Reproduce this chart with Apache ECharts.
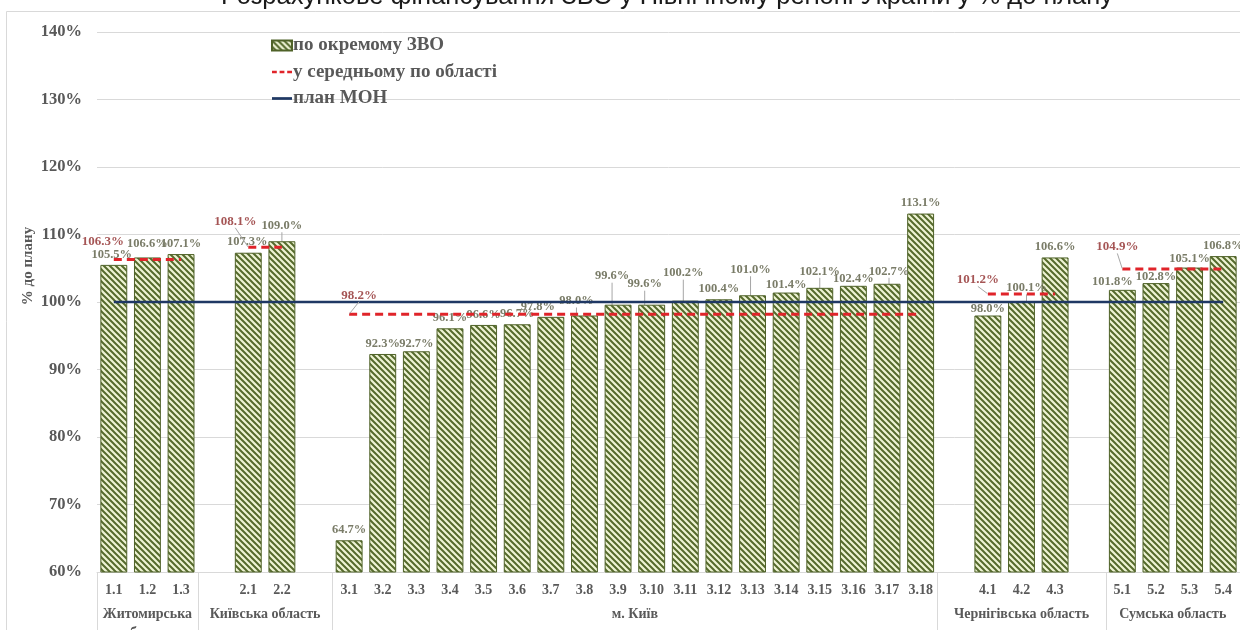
<!DOCTYPE html>
<html>
<head>
<meta charset="utf-8">
<script src="https://cdn.jsdelivr.net/npm/echarts@6/dist/echarts.min.js"></script>
<style>
  html, body { margin: 0; padding: 0; background: #ffffff; }
  #chart { width: 1240px; height: 630px; }
</style>
</head>
<body>
<div id="chart"></div>
<script>
// ---- data ----
const titleText = 'Розрахункове фінансування ЗВО у Північному регіоні України у % до плану';
const seriesNames = ['по окремому ЗВО', 'у середньому по області', 'план МОН'];

// category slots along the x axis ('' = spacer slot between regions)
const categoryCodes = [
  '1.1', '1.2', '1.3', '',
  '2.1', '2.2', '',
  '3.1', '3.2', '3.3', '3.4', '3.5', '3.6', '3.7', '3.8', '3.9',
  '3.10', '3.11', '3.12', '3.13', '3.14', '3.15', '3.16', '3.17', '3.18', '',
  '4.1', '4.2', '4.3', '',
  '5.1', '5.2', '5.3', '5.4'
];
const barValues = [
  105.5, 106.6, 107.1, null,
  107.3, 109.0, null,
  64.7, 92.3, 92.7, 96.1, 96.6, 96.7, 97.8, 98.0, 99.6,
  99.6, 100.2, 100.4, 101.0, 101.4, 102.1, 102.4, 102.7, 113.1, null,
  98.0, 100.1, 106.6, null,
  101.8, 102.8, 105.1, 106.8
];
const groupNames = ['Житомирська\nобласть', 'Київська область', 'м. Київ', 'Чернігівська область', 'Сумська область'];
const groupSizes = [3, 4, 18, 5, 4];
const groupAverages = [106.3, 108.1, 98.2, 101.2, 104.9];
const planLevel = 100;
const yMin = 60, yMax = 140, yStep = 10;

// ---- label placement tweaks: [dx, dy, leader line] ----
const barLabelNudge = {
  '1.1': [-2, 0, 0], '1.2': [0, -3, 0], '2.1': [-1, 0, 0], '2.2': [0, -5, 1],
  '3.3': [0, 3, 0], '3.7': [-13, 0, 0], '3.8': [-8, -4, 1], '3.9': [-6, -18, 1],
  '3.10': [-7, -10, 1], '3.11': [-2, -17, 1], '3.13': [-2, -15, 1], '3.14': [0, 3, 0],
  '3.15': [0, -6, 1], '3.16': [0, 3, 0], '3.17': [2, -2, 1], '4.1': [0, 4, 0],
  '4.2': [5, -3, 1], '5.1': [-10, 2, 0], '5.2': [0, 4, 0], '5.3': [0, 2, 0]
};
const avgLabelNudge = [[-11, -18, 0], [-13, -26, 1], [10, -19, 1], [-10, -14, 1], [-5, -22, 1]];

// ---- derived series ----
const groupStarts = [];
groupSizes.reduce((s, n) => { groupStarts.push(s); return s + n; }, 0);

const avgLine = categoryCodes.map(() => null);
const avgPoints = [];
groupSizes.forEach((n, g) => {
  let first = -1;
  for (let i = groupStarts[g]; i < groupStarts[g] + n; i++) {
    if (barValues[i] != null) {
      avgLine[i] = groupAverages[g];
      if (first < 0) first = i;
    }
  }
  avgPoints.push({
    value: [first, groupAverages[g]],
    labelLine: { show: !!avgLabelNudge[g][2] }
  });
});
const planLine = categoryCodes.map(() => planLevel);

const barData = barValues.map((v, i) => {
  if (v == null) return null;
  const n = barLabelNudge[categoryCodes[i]];
  return { value: v, labelLine: { show: !!(n && n[2]) } };
});

// diagonal hatch fill for the bars
function hatchPattern() {
  const s = 6;
  const c = document.createElement('canvas');
  c.width = s; c.height = s;
  const g = c.getContext('2d');
  g.fillStyle = '#eef3d4';
  g.fillRect(0, 0, s, s);
  g.strokeStyle = '#556a2c';
  g.lineWidth = 2;
  g.beginPath();
  g.moveTo(-1, -1); g.lineTo(s + 1, s + 1);
  g.moveTo(-1, s - 1); g.lineTo(1, s + 1);
  g.moveTo(s - 1, -1); g.lineTo(s + 1, 1);
  g.stroke();
  return c;
}

const serif = '"Liberation Serif", "DejaVu Serif", serif';
const axisGrey = '#595959';
const avgRed = '#e0242a';
const planBlue = '#1f3864';

const chart = echarts.init(document.getElementById('chart'), null, { renderer: 'canvas' });

chart.setOption({
  animation: false,
  backgroundColor: '#ffffff',
  grid: { left: 97, right: -2, top: 32, bottom: 58, containLabel: false },
  legend: {
    data: [
      { name: seriesNames[0], icon: 'rect' },
      { name: seriesNames[1], icon: 'path://M0,0H6V3.4H0Z M9.5,0H15.5V3.4H9.5Z M19,0H25V3.4H19Z' },
      { name: seriesNames[2], icon: 'path://M0,0H25V3.4H0Z' }
    ],
    orient: 'vertical',
    left: 271,
    top: 36,
    padding: 0,
    itemWidth: 20,
    itemHeight: 10,
    itemGap: 7.5,
    selectedMode: false,
    textStyle: { fontFamily: serif, fontWeight: 'bold', fontSize: 19, color: axisGrey, padding: [0, 0, 0, -4] }
  },
  xAxis: {
    type: 'category',
    data: categoryCodes,
    axisLine: { show: true, lineStyle: { color: '#d9d9d9', width: 1 } },
    axisTick: { show: false },
    axisLabel: {
      interval: 0, margin: 11,
      fontFamily: serif, fontWeight: 'bold', fontSize: 14, color: axisGrey
    },
    splitLine: { show: false }
  },
  yAxis: {
    type: 'value',
    min: yMin, max: yMax, interval: yStep,
    axisLine: { show: false },
    axisTick: { show: false },
    axisLabel: {
      formatter: '{value}%', margin: 15,
      fontFamily: serif, fontWeight: 'bold', fontSize: 16.5, color: axisGrey
    },
    splitLine: { show: true, lineStyle: { color: '#d9d9d9', width: 1 } }
  },
  series: [
    {
      name: seriesNames[0],
      type: 'bar',
      data: barData,
      barCategoryGap: '20%',
      itemStyle: {
        color: { image: hatchPattern(), repeat: 'repeat' },
        borderColor: '#4f6228',
        borderWidth: 1
      },
      label: {
        show: true, position: 'top', distance: 4,
        formatter: p => Number(p.value).toFixed(1) + '%',
        fontFamily: serif, fontWeight: 'bold', fontSize: 12.5, color: '#7a7c68'
      },
      labelLayout: p => {
        const n = barLabelNudge[categoryCodes[p.dataIndex]];
        return n ? { dx: n[0], dy: n[1] } : {};
      },
      labelLine: { show: false, lineStyle: { color: '#a6a6a6', width: 1 } },
      emphasis: { disabled: true },
      z: 2
    },
    {
      name: seriesNames[1],
      type: 'line',
      data: avgLine,
      symbol: 'none',
      connectNulls: false,
      lineStyle: { color: avgRed, width: 3, type: [8, 5] },
      itemStyle: { color: avgRed },
      emphasis: { disabled: true },
      z: 4
    },
    {
      name: seriesNames[2],
      type: 'line',
      data: planLine,
      symbol: 'none',
      lineStyle: { color: planBlue, width: 2.5 },
      itemStyle: { color: planBlue },
      emphasis: { disabled: true },
      z: 3
    },
    {
      name: 'regionAverageLabels',
      type: 'scatter',
      data: avgPoints,
      symbolSize: 1,
      itemStyle: { color: 'rgba(0,0,0,0)' },
      label: {
        show: true, position: 'inside',
        formatter: p => p.value[1].toFixed(1) + '%',
        fontFamily: serif, fontWeight: 'bold', fontSize: 13, color: '#8e2a2a'
      },
      labelLayout: p => {
        const n = avgLabelNudge[p.dataIndex];
        return { dx: n[0], dy: n[1] };
      },
      labelLine: { show: false, lineStyle: { color: '#a6a6a6', width: 1 } },
      emphasis: { disabled: true },
      silent: true,
      z: 5
    }
  ]
});

// ---- decorations placed with the axis scale: region labels, dividers, titles ----
const x0 = chart.convertToPixel({ xAxisIndex: 0 }, 0);
const x1 = chart.convertToPixel({ xAxisIndex: 0 }, 1);
const cw = x1 - x0;
const edge = i => x0 - cw / 2 + i * cw;
const axisY = chart.convertToPixel({ yAxisIndex: 0 }, yMin);

const graphics = [
  {
    type: 'rect', silent: true, z: -10,
    shape: { x: 6.5, y: 11.5, width: 1300, height: 700 },
    style: { fill: null, stroke: '#d9d9d9', lineWidth: 1 }
  },
  {
    type: 'text', silent: true,
    x: 667, y: 10,
    style: {
      text: titleText, align: 'center', verticalAlign: 'bottom',
      font: '25.5px "Liberation Sans", Arial, sans-serif', fill: '#1a1a1a'
    }
  },
  {
    type: 'text', silent: true,
    x: 28, y: 266, rotation: Math.PI / 2,
    style: {
      text: '% до плану', align: 'center', verticalAlign: 'middle',
      font: 'bold 15px ' + serif, fill: axisGrey
    }
  }
];

groupSizes.forEach((n, g) => {
  const a = edge(groupStarts[g]);
  const b = edge(groupStarts[g] + n);
  graphics.push({
    type: 'line', silent: true,
    shape: { x1: Math.round(a) + 0.5, y1: axisY, x2: Math.round(a) + 0.5, y2: 640 },
    style: { stroke: '#d9d9d9', lineWidth: 1 }
  });
  graphics.push({
    type: 'text', silent: true,
    x: (a + b) / 2, y: axisY + 33,
    style: {
      text: groupNames[g], align: 'center', verticalAlign: 'top',
      font: 'bold 14px ' + serif, fill: axisGrey, lineHeight: 19
    }
  });
});

chart.setOption({ graphic: graphics });
</script>
</body>
</html>
